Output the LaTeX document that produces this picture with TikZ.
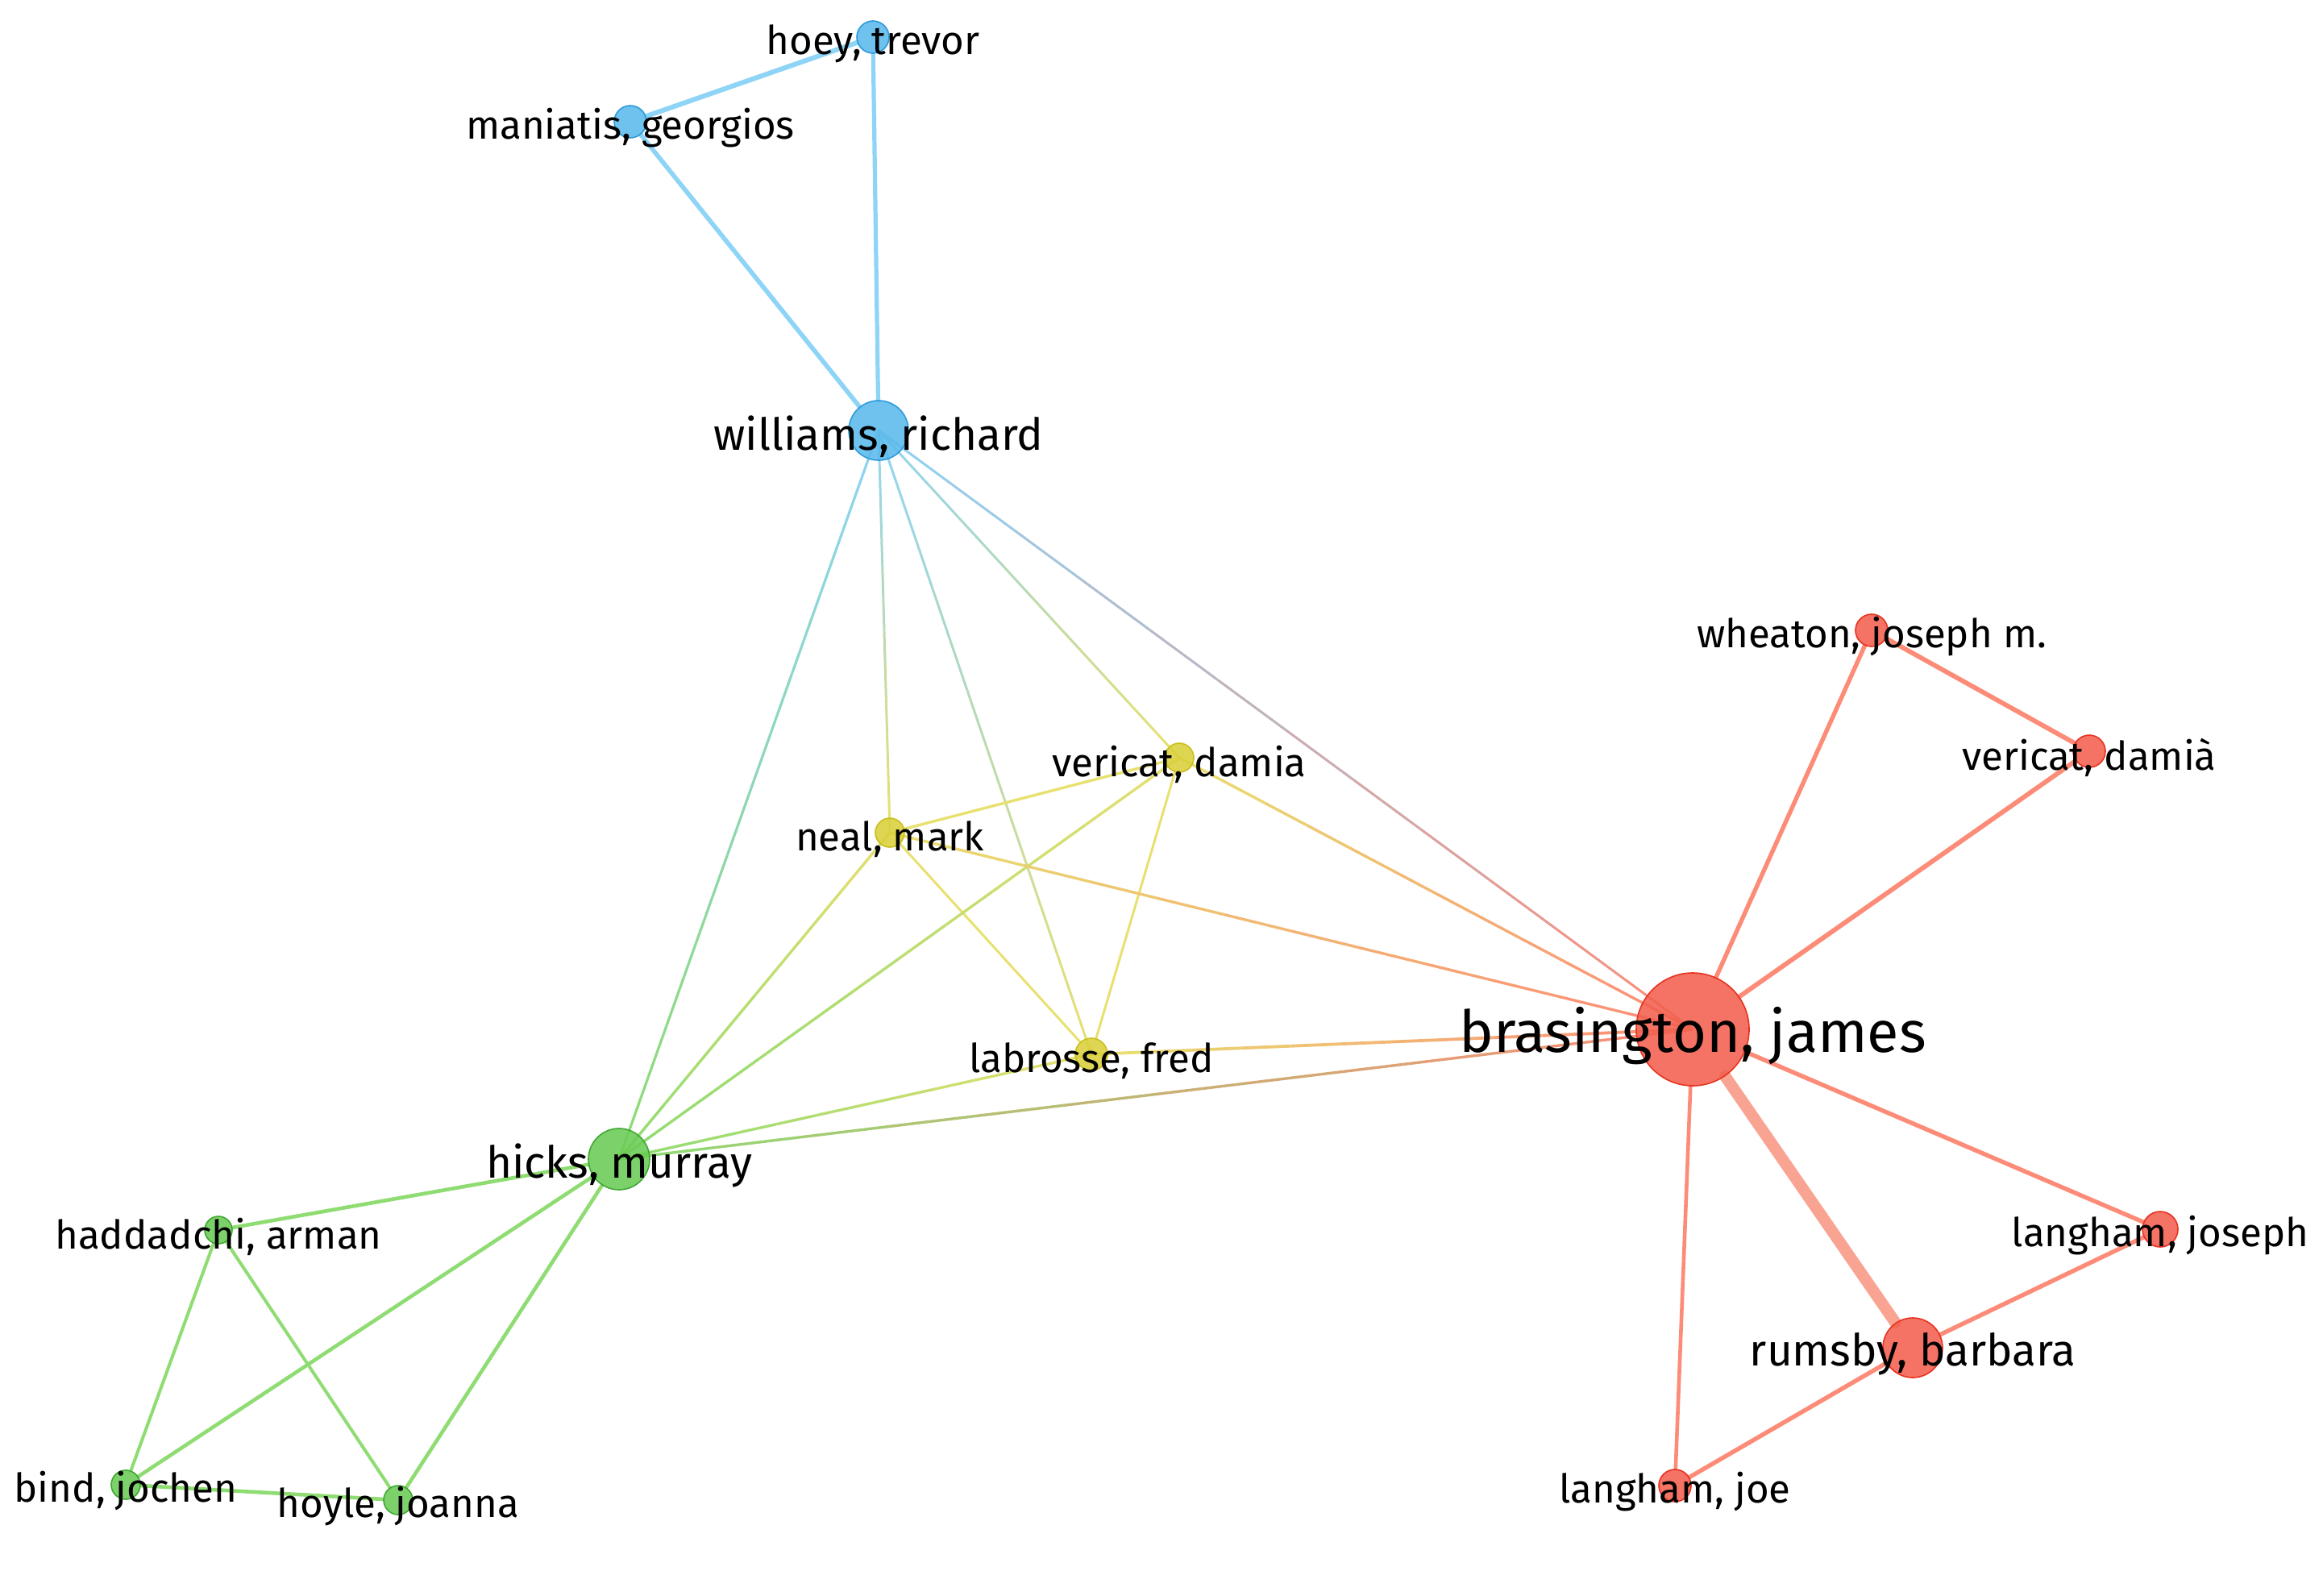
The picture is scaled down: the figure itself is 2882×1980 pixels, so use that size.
\documentclass[tikz,border=0pt]{standalone}
\usepackage{fontspec}
\setmainfont{Fira Sans}
\usetikzlibrary{calc,backgrounds}
\definecolor{bN}{HTML}{5AB9EB}
\definecolor{bD}{HTML}{2E9BDA}
\definecolor{bE}{HTML}{8ED4F6}
\definecolor{gN}{HTML}{6BCB55}
\definecolor{gD}{HTML}{3FA832}
\definecolor{gE}{HTML}{8EDC72}
\definecolor{yN}{HTML}{D9D03B}
\definecolor{yD}{HTML}{C9BE1E}
\definecolor{yE}{HTML}{E8E070}
\definecolor{rN}{HTML}{F2604F}
\definecolor{rD}{HTML}{E8321F}
\definecolor{rE}{HTML}{FC8C78}
\definecolor{rT}{HTML}{F9A493}
\tikzset{
  vnode/.style={circle, inner sep=0pt, fill opacity=0.88, line width=0.4pt},
  lbl/.style={text=black, inner sep=0pt, yshift=-2pt, font=\fontsize{12.3}{14}\selectfont},
  lblm/.style={lbl, font=\fontsize{13.7}{16}\selectfont},
  lblb/.style={lbl, font=\fontsize{18}{21}\selectfont},
  blue/.style={vnode, fill=bN, draw=bD},
  green/.style={vnode, fill=gN, draw=gD},
  yellow/.style={vnode, fill=yN, draw=yD},
  red/.style={vnode, fill=rN, draw=rD},
  edge/.style={line width=#1, line cap=round},
}
\newcommand{\gedge}[5]{%
  \foreach \k in {0,...,11}{%
    \pgfmathsetmacro{\ta}{\k/12}%
    \pgfmathsetmacro{\tb}{(\k+1)/12}%
    \pgfmathtruncatemacro{\pc}{100-(\k+0.5)*100/12}%
    \draw[line width=#5, color=#3!\pc!#4] ($(#1)!\ta!(#2)$) -- ($(#1)!\tb!(#2)$);
  }}
\begin{document}
\begin{tikzpicture}[x=0.25pt, y=-0.25pt]
\useasboundingbox (0,0) rectangle (2882,1980);
% nodes
\node[blue, minimum size=10pt, label={[lbl]center:hoey, trevor}] (hoey) at (1083,46) {};
\node[blue, minimum size=10pt, label={[lbl]center:maniatis, georgios}] (mani) at (782,151) {};
\node[blue, minimum size=18.5pt, label={[lblm]center:williams, richard}] (will) at (1090,534) {};
\node[yellow, minimum size=9pt, label={[lbl]center:vericat, damia}] (vy) at (1463,940) {};
\node[yellow, minimum size=9pt, label={[lbl]center:neal, mark}] (neal) at (1104,1033) {};
\node[yellow, minimum size=10pt, label={[lbl]center:labrosse, fred}] (labr) at (1354,1308) {};
\node[green, minimum size=19pt, label={[lblm]center:hicks, murray}] (hick) at (768,1438) {};
\node[green, minimum size=8.5pt, label={[lbl]center:haddadchi, arman}] (hadd) at (271,1526) {};
\node[green, minimum size=9pt, label={[lbl]center:bind, jochen}] (bind) at (156,1842) {};
\node[green, minimum size=9pt, label={[lbl]center:hoyle, joanna}] (hoyl) at (494,1861) {};
\node[red, minimum size=35pt, label={[lblb]center:brasington, james}] (bras) at (2100,1277) {};
\node[red, minimum size=10pt, label={[lbl]center:wheaton, joseph m.}] (whea) at (2322,782) {};
\node[red, minimum size=10pt, label={[lbl]center:vericat, damià}] (vr) at (2592,932) {};
\node[red, minimum size=11pt, label={[lbl]center:langham, joseph}] (ljos) at (2680,1525) {};
\node[red, minimum size=18.5pt, label={[lblm]center:rumsby, barbara}] (rums) at (2373,1672) {};
\node[red, minimum size=10pt, label={[lbl]center:langham, joe}] (ljoe) at (2078,1843) {};
% edges
\begin{pgfonlayer}{background}
\draw[edge=1.5pt, bE] (hoey) -- (mani);
\draw[edge=1.3pt, bE] (hoey) -- (will);
\draw[edge=1.4pt, bE] (mani) -- (will);
\gedge{will}{hick}{bE}{gE}{0.8pt}
\gedge{will}{neal}{bE}{yE}{0.75pt}
\gedge{will}{labr}{bE}{yE}{0.75pt}
\gedge{will}{vy}{bE}{yE}{0.75pt}
\gedge{will}{bras}{bE}{rE}{0.75pt}
\draw[edge=0.85pt, yE] (neal) -- (vy);
\draw[edge=0.75pt, yE] (neal) -- (labr);
\draw[edge=0.75pt, yE] (vy) -- (labr);
\gedge{neal}{hick}{yE}{gE}{0.85pt}
\gedge{vy}{hick}{yE}{gE}{0.85pt}
\gedge{labr}{hick}{yE}{gE}{0.85pt}
\gedge{neal}{bras}{yE}{rE}{0.85pt}
\gedge{vy}{bras}{yE}{rE}{0.85pt}
\gedge{labr}{bras}{yE}{rE}{0.95pt}
\gedge{hick}{bras}{gE}{rE}{0.85pt}
\draw[edge=1.15pt, gE] (hick) -- (hadd);
\draw[edge=1.15pt, gE] (hick) -- (bind);
\draw[edge=1.15pt, gE] (hick) -- (hoyl);
\draw[edge=1pt, gE] (hadd) -- (bind);
\draw[edge=1pt, gE] (hadd) -- (hoyl);
\draw[edge=1.15pt, gE] (bind) -- (hoyl);
\draw[edge=1.35pt, rE] (bras) -- (whea);
\draw[edge=1.45pt, rE] (bras) -- (vr);
\draw[edge=1.45pt, rE] (whea) -- (vr);
\draw[edge=1.35pt, rE] (bras) -- (ljos);
\draw[edge=3.6pt, rT] (bras) -- (rums);
\draw[edge=1.15pt, rE] (bras) -- (ljoe);
\draw[edge=1.35pt, rE] (rums) -- (ljos);
\draw[edge=1.35pt, rE] (rums) -- (ljoe);
\end{pgfonlayer}
\end{tikzpicture}
\end{document}
